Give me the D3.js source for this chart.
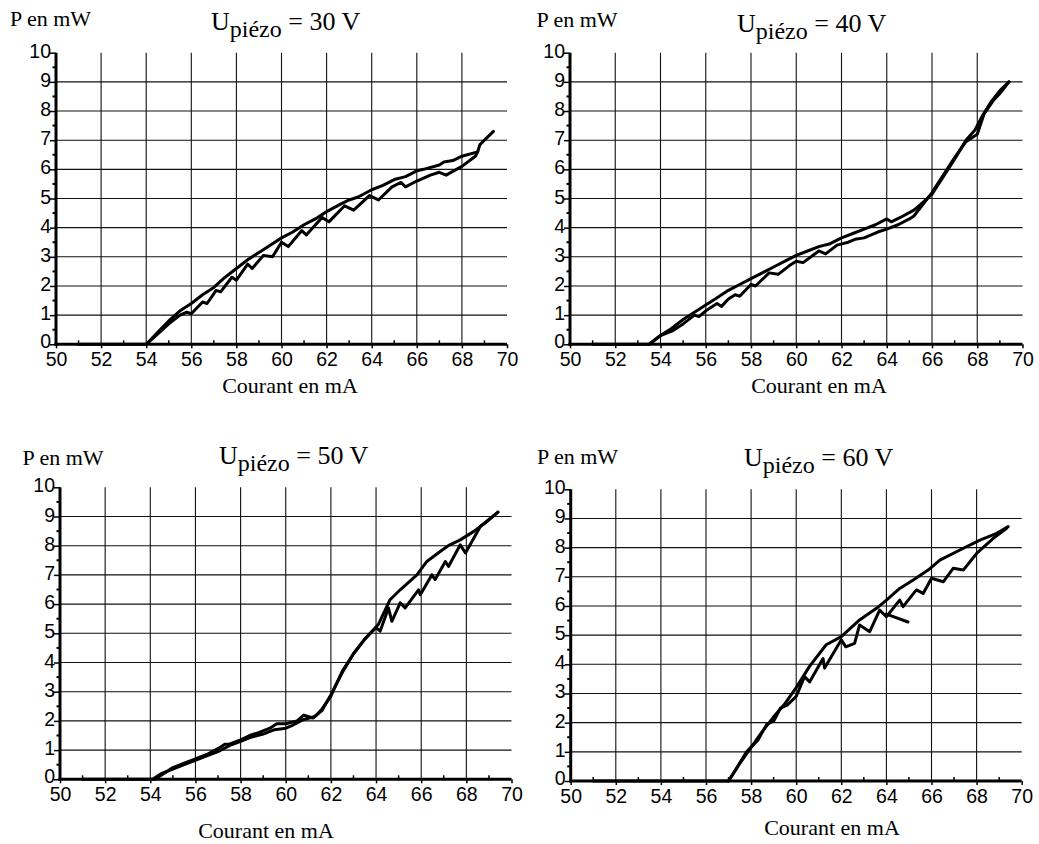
<!DOCTYPE html>
<html>
<head>
<meta charset="utf-8">
<script src="https://cdn.jsdelivr.net/npm/d3@7"></script>
<style>
  html, body { margin: 0; padding: 0; background: #fff; }
  svg { display: block; }
  .tick-label { font-family: "Liberation Sans", Arial, sans-serif; font-size: 19.5px; fill: #000; }
  .serif { font-family: "Liberation Serif", "Times New Roman", serif; fill: #000; }
</style>
</head>
<body>
<svg id="chart" width="1039" height="844"></svg>
<script>
// ---------- data ----------
const currentTicks = [50, 52, 54, 56, 58, 60, 62, 64, 66, 68, 70];
const powerTicks = [0, 1, 2, 3, 4, 5, 6, 7, 8, 9, 10];
const voltages = ["30", "40", "50", "60"];

// U = 30 V : [courant mA, P mW]
const u30Up = [[51,0],[52,0],[53,0],[54,0],[54.5,0.35],[55,0.7],[55.5,1.0],[55.8,1.1],[56,1.05],[56.5,1.45],[56.7,1.4],[57.1,1.85],[57.3,1.8],[57.8,2.3],[58,2.2],[58.5,2.75],[58.7,2.6],[59.2,3.05],[59.6,3.0],[60,3.5],[60.3,3.35],[60.9,3.9],[61.1,3.75],[61.8,4.35],[62.1,4.2],[62.8,4.75],[63.2,4.6],[63.9,5.1],[64.3,4.95],[64.9,5.4],[65.3,5.55],[65.5,5.4],[66,5.6],[66.6,5.8],[67,5.9],[67.3,5.8],[68,6.1],[68.6,6.45],[68.7,6.6]];
const u30Down = [[69.4,7.3],[69.0,7.0],[68.8,6.85],[68.7,6.6],[68,6.45],[67.6,6.3],[67.2,6.25],[67,6.15],[66.3,6.0],[66,5.95],[65.5,5.75],[65,5.65],[64.5,5.45],[64,5.3],[63.4,5.05],[63,4.95],[62.6,4.8],[62,4.55],[61.5,4.3],[61,4.1],[60.5,3.85],[60,3.65],[59.5,3.4],[59,3.15],[58.5,2.9],[58,2.6],[57.5,2.3],[57,1.95],[56.5,1.7],[56,1.4],[55.5,1.15],[55,0.8],[54.5,0.4],[54,0]];

// U = 40 V
const u40Up = [[51,0],[52,0],[53,0],[53.5,0],[54,0.3],[54.5,0.45],[55,0.7],[55.5,1.0],[55.7,0.95],[56,1.15],[56.5,1.4],[56.7,1.3],[57,1.55],[57.3,1.7],[57.5,1.65],[58,2.05],[58.2,2.0],[58.8,2.45],[59.2,2.4],[59.7,2.7],[60,2.85],[60.3,2.8],[61,3.2],[61.3,3.1],[61.8,3.4],[62.3,3.5],[62.6,3.6],[63,3.65],[63.6,3.85],[64,3.95],[64.5,4.1],[65,4.3],[65.2,4.4],[65.8,5.0],[66,5.2],[66.5,5.8],[67,6.4],[67.5,6.95],[68,7.2],[68.3,7.9],[68.7,8.35],[69,8.6],[69.4,9.0]];
const u40Down = [[69.4,9.0],[69,8.7],[68.6,8.3],[68.2,7.8],[67.9,7.35],[67.5,7.0],[67,6.35],[66.5,5.75],[66,5.15],[65.5,4.8],[65.2,4.6],[64.6,4.35],[64.2,4.2],[64,4.3],[63.5,4.1],[63,3.95],[62.5,3.8],[62,3.65],[61.5,3.45],[61,3.35],[60.5,3.2],[60,3.05],[59.5,2.85],[59,2.65],[58.5,2.45],[58,2.25],[57.5,2.05],[57,1.85],[56.5,1.6],[56,1.35],[55.5,1.1],[55,0.85],[54.5,0.55],[54,0.3],[53.5,0]];

// U = 50 V
const u50Up = [[51,0],[52,0],[53,0],[54.1,0],[54.5,0.2],[55,0.35],[55.5,0.5],[56,0.65],[56.5,0.8],[57,0.95],[57.5,1.15],[58,1.3],[58.5,1.45],[59,1.55],[59.5,1.7],[60,1.75],[60.3,1.85],[60.8,2.05],[61.3,2.15],[61.6,2.4],[62,2.85],[62.5,3.7],[63,4.3],[63.5,4.8],[64,5.2],[64.18,5.07],[64.55,5.87],[64.7,5.41],[65.07,6.04],[65.29,5.87],[65.88,6.49],[65.96,6.32],[66.47,7.0],[66.62,6.84],[67.07,7.46],[67.21,7.29],[67.73,8.03],[67.96,7.75],[68.62,8.66],[69.4,9.15]];
const u50Down = [[69.4,9.15],[68.92,8.83],[68.33,8.49],[67.73,8.2],[67.2,8.0],[66.84,7.8],[66.25,7.46],[65.81,7.0],[65.07,6.49],[64.62,6.15],[64.1,5.3],[63.5,4.8],[63,4.3],[62.5,3.65],[62,2.9],[61.6,2.35],[61.2,2.1],[60.8,2.2],[60.5,2.0],[60,1.9],[59.6,1.9],[59.3,1.75],[58.8,1.6],[58.4,1.5],[58,1.35],[57.5,1.2],[57.3,1.2],[57,1.05],[56.5,0.85],[56,0.7],[55.5,0.55],[55,0.4],[54.5,0.15],[54.2,0]];

// U = 60 V
const u60Up = [[51,0],[52,0],[54,0],[56,0],[57,0],[57.4,0.5],[57.8,1.0],[58.3,1.4],[58.7,1.95],[59,2.05],[59.3,2.5],[59.6,2.6],[60,2.9],[60.37,3.58],[60.6,3.4],[61.19,4.2],[61.26,3.87],[62.0,4.84],[62.2,4.6],[62.59,4.72],[62.81,5.35],[63.26,5.12],[63.7,5.86],[64,5.63],[64.59,6.2],[64.74,5.98],[65.33,6.55],[65.63,6.43],[66.0,6.95],[66.52,6.83],[66.96,7.29],[67.41,7.23],[68.0,7.8],[68.74,8.32],[69.33,8.66]];
const u60Down = [[69.4,8.72],[68.89,8.49],[68.15,8.26],[67.26,7.92],[66.37,7.57],[65.85,7.23],[65.19,6.89],[64.59,6.6],[64,6.2],[63.56,5.92],[62.81,5.52],[62,4.95],[61.33,4.67],[60.59,3.93],[60,3.2],[59.5,2.65],[59,2.2],[58.5,1.7],[58,1.15],[57.5,0.6],[57,0]];
const u60Stray = [[64.0,5.72],[64.96,5.45]];

// ---------- layout ----------
const panels = [
  { x0: 56,    x1: 507,    y0: 344.3, y10: 52.7,  pLabel: [10, 26],     title: [211, 30],    xTitle: [290, 392.5], up: u30Up, down: u30Down, extra: [] },
  { x0: 570,   x1: 1022.5, y0: 344.3, y10: 52.7,  pLabel: [536.5, 26.5], title: [737, 31.5], xTitle: [819, 393],  up: u40Up, down: u40Down, extra: [] },
  { x0: 60,    x1: 511.5,  y0: 779.3, y10: 487.3, pLabel: [22.5, 465],  title: [219, 463.5], xTitle: [266, 838],  up: u50Up, down: u50Down, extra: [] },
  { x0: 570.7, x1: 1021.7, y0: 781,   y10: 489.3, pLabel: [537, 463.5], title: [744, 466],   xTitle: [832, 835],  up: u60Up, down: u60Down, extra: [u60Stray] }
];

const svg = d3.select("#chart");

panels.forEach((p, i) => {
  const x = d3.scaleLinear().domain([50, 70]).range([p.x0, p.x1]);
  const y = d3.scaleLinear().domain([0, 10]).range([p.y0, p.y10]);
  const g = svg.append("g");

  // vertical grid
  g.selectAll("line.vg").data(currentTicks.filter(t => t > 50 && t < 70)).join("line")
    .attr("x1", d => x(d)).attr("x2", d => x(d))
    .attr("y1", y(0)).attr("y2", y(10))
    .attr("stroke", "#111").attr("stroke-width", 1.1);
  // horizontal grid
  g.selectAll("line.hg").data(powerTicks.filter(t => t > 0 && t < 10)).join("line")
    .attr("x1", x(50)).attr("x2", x(70))
    .attr("y1", d => y(d)).attr("y2", d => y(d))
    .attr("stroke", "#111").attr("stroke-width", 1.1);

  // y axis
  const yAxis = d3.axisLeft(y).tickValues(powerTicks).tickSize(6).tickFormat(d3.format("d"));
  const ya = g.append("g").attr("transform", `translate(${x(50)},0)`).call(yAxis);
  ya.select(".domain").attr("stroke", "#000").attr("stroke-width", 3).attr("d", `M0,${y(0)+1.5}V${y(10)}`);
  ya.selectAll(".tick line").attr("stroke", "#000").attr("stroke-width", 1.5);
  ya.selectAll(".tick text").attr("class", "tick-label").attr("x", -5).attr("dy", null)
    .attr("y", d => d === 0 ? 3 : 4.5).attr("text-anchor", "end");
  // minor y ticks
  g.selectAll("line.ym").data(d3.range(0.5, 10, 1)).join("line")
    .attr("x1", x(50)).attr("x2", x(50) - 3.5)
    .attr("y1", d => y(d)).attr("y2", d => y(d))
    .attr("stroke", "#000").attr("stroke-width", 2);

  // x axis
  const xAxis = d3.axisBottom(x).tickValues(currentTicks).tickSize(4).tickFormat(d3.format("d"));
  const xa = g.append("g").attr("transform", `translate(0,${y(0)})`).call(xAxis);
  xa.select(".domain").attr("stroke", "#000").attr("stroke-width", 3).attr("d", `M${x(50)-1.5},0H${x(70)}`);
  xa.selectAll(".tick line").attr("stroke", "#000").attr("stroke-width", 1.5);
  xa.selectAll(".tick text").attr("class", "tick-label").attr("dy", null).attr("y", 21.5).attr("text-anchor", "middle");
  // minor x ticks
  g.selectAll("line.xm").data(d3.range(51, 70, 2)).join("line")
    .attr("x1", d => x(d)).attr("x2", d => x(d))
    .attr("y1", y(0)).attr("y2", y(0) - 4)
    .attr("stroke", "#000").attr("stroke-width", 1.5);

  // curves
  const line = d3.line().x(d => x(d[0])).y(d => y(d[1])).curve(d3.curveLinear);
  [p.up, p.down, ...p.extra].forEach(s => {
    g.append("path").datum(s).attr("d", line)
      .attr("fill", "none").attr("stroke", "#000").attr("stroke-width", 3)
      .attr("stroke-linejoin", "round").attr("stroke-linecap", "round");
  });

  // labels
  g.append("text").attr("class", "serif").attr("x", p.pLabel[0]).attr("y", p.pLabel[1])
    .style("font-size", "22px").text("P en mW");
  const t = g.append("text").attr("class", "serif").attr("x", p.title[0]).attr("y", p.title[1]).style("font-size", "26px");
  t.append("tspan").text("U");
  t.append("tspan").attr("dy", 7).style("font-size", "24px").text("piézo");
  t.append("tspan").attr("dy", -7).text(" = " + voltages[i] + " V");
  g.append("text").attr("class", "serif").attr("x", p.xTitle[0]).attr("y", p.xTitle[1])
    .attr("text-anchor", "middle").style("font-size", "22px").text("Courant en mA");
});
</script>
</body>
</html>
